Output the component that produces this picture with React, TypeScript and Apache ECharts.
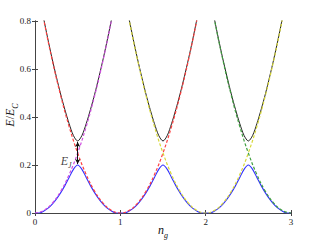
import React, { useEffect, useRef } from "react";
import * as echarts from "echarts";

// Band x grid (n_g) and energies (E/E_C)
const ngFine = [
  0, 0.05, 0.1, 0.15, 0.2, 0.25, 0.3, 0.35, 0.4, 0.45, 0.5, 0.55, 0.6, 0.65, 0.7, 0.75, 0.8, 0.85, 0.9, 0.95,
  1, 1.05, 1.1, 1.15, 1.2, 1.25, 1.3, 1.35, 1.4, 1.45, 1.5, 1.55, 1.6, 1.65, 1.7, 1.75, 1.8, 1.85, 1.9, 1.95,
  2, 2.05, 2.1, 2.15, 2.2, 2.25, 2.3, 2.35, 2.4, 2.45, 2.5, 2.55, 2.6, 2.65, 2.7, 2.75, 2.8, 2.85, 2.9, 2.95, 3,
];
const lowerBand = [
  0, 0, 0.007, 0.019, 0.036, 0.058, 0.084, 0.114, 0.148, 0.182, 0.2, 0.182, 0.148, 0.114, 0.084, 0.058, 0.036, 0.019, 0.007, 0,
  0, 0, 0.007, 0.019, 0.036, 0.058, 0.084, 0.114, 0.148, 0.182, 0.2, 0.182, 0.148, 0.114, 0.084, 0.058, 0.036, 0.019, 0.007, 0,
  0, 0, 0.007, 0.019, 0.036, 0.058, 0.084, 0.114, 0.148, 0.182, 0.2, 0.182, 0.148, 0.114, 0.084, 0.058, 0.036, 0.019, 0.007, 0, 0,
];
const upperBand = [
  1.0, 0.905, 0.813, 0.726, 0.644, 0.568, 0.496, 0.431, 0.372, 0.323, 0.3, 0.323, 0.372, 0.431, 0.496, 0.568, 0.644, 0.726, 0.813, 0.905,
  1.0, 0.905, 0.813, 0.726, 0.644, 0.568, 0.496, 0.431, 0.372, 0.323, 0.3, 0.323, 0.372, 0.431, 0.496, 0.568, 0.644, 0.726, 0.813, 0.905,
  1.0, 0.905, 0.813, 0.726, 0.644, 0.568, 0.496, 0.431, 0.372, 0.323, 0.3, 0.323, 0.372, 0.431, 0.496, 0.568, 0.644, 0.726, 0.813, 0.905, 1.0,
];

// Uncoupled charge-state parabolas (dashed)
const ngN0 = [0, 0.1, 0.2, 0.3, 0.4, 0.5, 0.6, 0.7, 0.8, 0.9, 1.0];
const eN0 = [0, 0.01, 0.04, 0.09, 0.16, 0.25, 0.36, 0.49, 0.64, 0.81, 1.0];
const ngN1 = [0, 0.1, 0.2, 0.3, 0.4, 0.5, 0.6, 0.7, 0.8, 0.9, 1.0, 1.1, 1.2, 1.3, 1.4, 1.5, 1.6, 1.7, 1.8, 1.9, 2.0];
const eN1 = [1.0, 0.81, 0.64, 0.49, 0.36, 0.25, 0.16, 0.09, 0.04, 0.01, 0, 0.01, 0.04, 0.09, 0.16, 0.25, 0.36, 0.49, 0.64, 0.81, 1.0];
const ngN2 = [1.0, 1.1, 1.2, 1.3, 1.4, 1.5, 1.6, 1.7, 1.8, 1.9, 2.0, 2.1, 2.2, 2.3, 2.4, 2.5, 2.6, 2.7, 2.8, 2.9, 3.0];
const eN2 = [1.0, 0.81, 0.64, 0.49, 0.36, 0.25, 0.16, 0.09, 0.04, 0.01, 0, 0.01, 0.04, 0.09, 0.16, 0.25, 0.36, 0.49, 0.64, 0.81, 1.0];
const ngN3 = [2.0, 2.1, 2.2, 2.3, 2.4, 2.5, 2.6, 2.7, 2.8, 2.9, 3.0];
const eN3 = [1.0, 0.81, 0.64, 0.49, 0.36, 0.25, 0.16, 0.09, 0.04, 0.01, 0];

// Josephson gap arrow at the degeneracy point
const gapNg = 0.5;
const gapLow = 0.2;
const gapHigh = 0.3;
const gapLabelE = 0.217;

const xTicks = [0, 1, 2, 3];
const yTicks = [0, 0.2, 0.4, 0.6, 0.8];

const SERIF = "'Liberation Serif', 'DejaVu Serif', serif";
const zip = (xs: number[], ys: number[]) => xs.map((x, i) => [x, ys[i]]);

export default function App() {
  const ref = useRef<HTMLDivElement>(null);
  useEffect(() => {
    if (!ref.current) return;
    const chart = echarts.init(ref.current, undefined, { renderer: "svg" });
    const axisCol = "#444";
    const tickLabel = { fontFamily: SERIF, fontSize: 9, color: "#222" };
    const dashed = (name: string, data: number[][], color: string) => ({
      name,
      type: "line",
      data,
      smooth: 0.4,
      symbol: "none",
      clip: true,
      lineStyle: { color, width: 1.2, type: [3, 2] },
      z: 3,
    });
    chart.setOption({
      animation: false,
      grid: { left: 35, right: 29, top: 21, bottom: 27 },
      xAxis: [
        {
          type: "value",
          min: xTicks[0],
          max: xTicks[xTicks.length - 1],
          interval: 1,
          position: "bottom",
          axisLine: { show: true, lineStyle: { color: axisCol } },
          axisTick: { show: true, inside: true, length: 3, lineStyle: { color: axisCol } },
          axisLabel: { ...tickLabel, margin: 4 },
          splitLine: { show: false },
        },
        {
          type: "value",
          min: xTicks[0],
          max: xTicks[xTicks.length - 1],
          interval: 1,
          position: "top",
          axisLine: { show: true, lineStyle: { color: axisCol } },
          axisTick: { show: true, inside: true, length: 3, lineStyle: { color: axisCol } },
          axisLabel: { show: false },
          splitLine: { show: false },
        },
      ],
      yAxis: [
        {
          type: "value",
          min: yTicks[0],
          max: yTicks[yTicks.length - 1],
          interval: 0.2,
          position: "left",
          axisLine: { show: true, lineStyle: { color: axisCol } },
          axisTick: { show: true, inside: true, length: 3, lineStyle: { color: axisCol } },
          axisLabel: { ...tickLabel, margin: 4, formatter: (v: number) => (v === 0 ? "0" : v.toFixed(1)) },
          splitLine: { show: false },
        },
        {
          type: "value",
          min: yTicks[0],
          max: yTicks[yTicks.length - 1],
          interval: 0.2,
          position: "right",
          axisLine: { show: true, lineStyle: { color: axisCol } },
          axisTick: { show: true, inside: true, length: 3, lineStyle: { color: axisCol } },
          axisLabel: { show: false },
          splitLine: { show: false },
        },
      ],
      series: [
        {
          name: "upper",
          type: "line",
          data: zip(ngFine, upperBand),
          smooth: 0.3,
          symbol: "none",
          clip: true,
          lineStyle: { color: "#222", width: 1 },
          z: 2,
        },
        {
          name: "lower",
          type: "line",
          data: zip(ngFine, lowerBand),
          smooth: 0.3,
          symbol: "none",
          clip: true,
          lineStyle: { color: "#3030ff", width: 1.1 },
          z: 2,
        },
        dashed("n0", zip(ngN0, eN0), "#d050e0"),
        dashed("n1", zip(ngN1, eN1), "#ff4040"),
        dashed("n2", zip(ngN2, eN2), "#d8d838"),
        dashed("n3", zip(ngN3, eN3), "#3f9f3f"),
        {
          name: "gap",
          type: "scatter",
          data: [[gapNg, gapLabelE]],
          symbolSize: 0,
          z: 5,
          label: {
            show: true,
            position: "left",
            distance: 6,
            formatter: "{i|E}{s|J}",
            rich: {
              i: { fontFamily: SERIF, fontStyle: "italic", fontSize: 12, color: "#111", lineHeight: 14 },
              s: { fontFamily: SERIF, fontStyle: "italic", fontSize: 8, color: "#111", lineHeight: 8, verticalAlign: "bottom", padding: [0, 0, -2, 0] },
            },
          },
          markLine: {
            silent: true,
            symbol: ["arrow", "arrow"],
            symbolSize: [4, 5],
            label: { show: false },
            lineStyle: { color: "#111", width: 1, type: "solid" },
            data: [[{ coord: [gapNg, gapLow + 0.004] }, { coord: [gapNg, gapHigh - 0.004] }]],
          },
        },
      ],
      graphic: [
        {
          type: "text",
          x: 10,
          y: 115,
          rotation: Math.PI / 2,
          style: {
            text: "{i|E}{n|/}{i|E}{s|C}",
            align: "center",
            verticalAlign: "middle",
            rich: {
              i: { fontFamily: SERIF, fontStyle: "italic", fontSize: 12, fill: "#111", lineHeight: 14 },
              n: { fontFamily: SERIF, fontSize: 12, fill: "#111", lineHeight: 14 },
              s: { fontFamily: SERIF, fontStyle: "italic", fontSize: 8, fill: "#111", lineHeight: 8, verticalAlign: "bottom", padding: [0, 0, -2, 0] },
            },
          },
        },
        {
          type: "text",
          x: 163,
          y: 230,
          style: {
            text: "{i|n}{s|g}",
            align: "center",
            verticalAlign: "middle",
            rich: {
              i: { fontFamily: SERIF, fontStyle: "italic", fontSize: 12, fill: "#111", lineHeight: 14 },
              s: { fontFamily: SERIF, fontStyle: "italic", fontSize: 8, fill: "#111", lineHeight: 8, verticalAlign: "bottom", padding: [0, 0, -2, 0] },
            },
          },
        },
      ],
    });
    return () => chart.dispose();
  }, []);
  return <div ref={ref} style={{ position: "fixed", left: 0, top: 0, width: 320, height: 240, background: "#fff" }} />;
}
